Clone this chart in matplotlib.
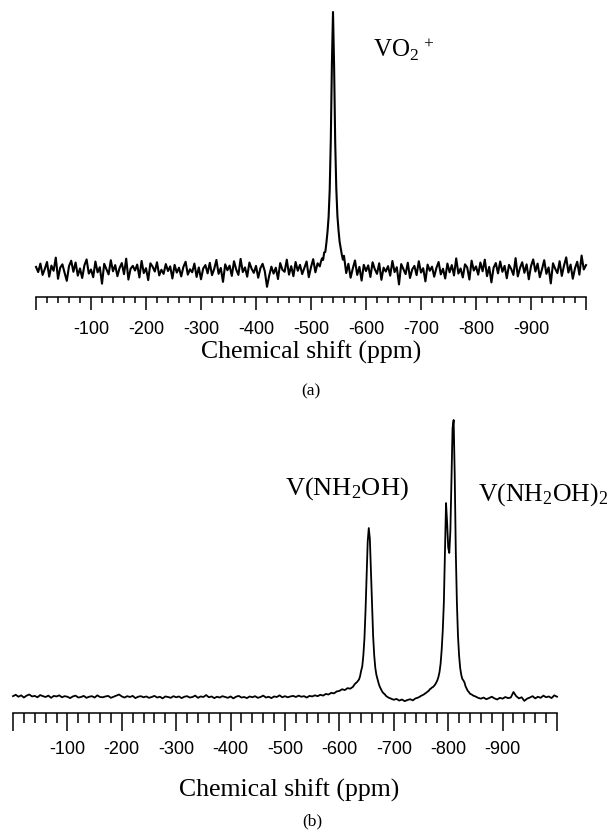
import numpy as np
import matplotlib
matplotlib.use("Agg")
import matplotlib.pyplot as plt

plt.rcParams["mathtext.fontset"] = "custom"
plt.rcParams["mathtext.rm"] = "Liberation Serif"
plt.rcParams["mathtext.it"] = "Liberation Serif:italic"

SERIF = "Liberation Serif"
SANS = "Liberation Sans"

# ---- panel (a): VO2+ spectrum ----
# baseline 0 ... -516 ppm (step 4)
noise_a_left = [
    1.2, -0.8, 2.5, -1.9, 0.4, 3.1, -2.6, 1.7, -0.3, 4.8, -3.4, 0.9, 2.2, -1.1, -4.2, 1.5, 3.6, -0.7, 2.9, -2.2,
    0.6, -3.1, 1.8, 4.1, -1.4, 0.2, -2.8, 3.3, -0.9, 1.1, -5.3, 2.4, 0.3, -1.7, 3.8, -0.5, 1.9, -2.4, 0.8, 2.7,
    -1.6, 4.4, -3.7, 0.5, 1.6, -0.2, 2.1, -2.9, 3.5, -1.2, 0.7, -3.9, 2.6, 1.3, -0.6, 3.0, -2.1, 0.1, -1.5, 2.3,
    -0.4, 1.4, -3.3, 2.0, -1.0, 0.9, -2.5, 1.2, 3.2, -1.8, 0.3, -0.9, 2.5, -2.7, 1.0, -3.6, 0.6, 1.9, -1.3, 2.8,
    -2.0, 0.4, 3.9, -1.5, 0.8, -4.6, 2.2, -0.1, 1.7, -2.3, 3.4, 0.2, -1.9, 4.3, -0.8, 1.0, -2.6, 2.9, 0.5, -1.1,
    1.6, -3.0, 0.7, 2.4, -0.5, -6.5, -2.2, 1.3, -1.4, 0.9, -3.5, 2.7, 0.1, -0.7, 4.0, -1.8, 1.5, -2.4, 3.1, -0.3,
    2.0, -1.6, 0.8, 3.3, -2.8, 1.1, 4.2, -0.9, 2.6, 1.4,
]
# peak region -518 ... -562 ppm (step 2)
peak_a = [3.2, 4.5, 3.9, 6.8, 7.0, 10.5, 14.8, 20.5, 31.0, 50.5, 80.0, 100.0,
          79.0, 49.5, 31.5, 21.0, 15.5, 11.0, 8.5, 6.0, 4.0, 5.5, 2.0]
# baseline -564 ... -1000 ppm (step 4)
noise_a_right = [
    -1.2, 2.4, -3.0, 0.6, 3.7, -1.9, 1.2, -4.1, 2.0, -0.4, 1.8, -2.7, 3.0, 0.3, -1.5, 2.6, -3.8, 0.9, -0.6, 1.5,
    -2.2, 3.5, -0.8, 1.1, -5.6, 2.3, 0.4, -1.6, 2.8, -3.1, 0.2, 1.6, -2.0, 3.4, -1.0, 0.7, -4.4, 2.1, -0.3, 1.3,
    -2.6, 0.8, 3.1, -1.7, 0.5, -3.3, 2.5, -0.9, 1.9, -2.1, 4.5, -1.4, 0.6, -2.9, 2.2, 1.0, -3.7, 3.6, -0.2, 1.4,
    -1.8, 2.9, -0.5, 4.0, -2.4, 1.2, -4.8, 0.9, 2.7, -1.3, 3.3, -0.7, 1.6, -3.2, 2.0, 0.4, -1.9, 4.6, -2.5, 0.8,
    3.0, -1.1, 2.2, -3.6, 1.5, 4.1, -0.6, 2.5, -2.8, 0.3, 3.8, -1.5, 1.0, -5.2, 2.6, 0.5, -1.2, 3.4, -2.3, 1.7,
    4.9, -1.0, 2.1, -3.4, 0.7, 3.2, -1.8, 5.6, 0.2, 1.9,
]

# ---- panel (b): hydroxylamine complexes ----
base_b1 = [
    0.3, 0.8, 0.1, 0.6, -0.2, 0.5, 0.9, 0.2, 0.4, -0.1, 0.7, 0.3, 0.0, 0.5, -0.3, 0.4, 0.2, 0.6, -0.1, 0.3,
    0.1, -0.4, 0.2, 0.5, -0.2, 0.0, 0.4, -0.3, 0.1, 0.3, -0.2, 0.6, 0.0, -0.1, 0.2, 0.4, -0.3, 0.1, 0.5, 0.9,
    0.2, -0.2, 0.3, 0.0, 0.4, -0.4, 0.1, 0.3, -0.1, 0.2, -0.3, 0.0, 0.4, -0.2, 0.1, -0.5, 0.2, 0.0, -0.3, 0.3,
    -0.1, 0.2, -0.4, 0.1, 0.3, -0.2, 0.0, 0.5, -0.3, 0.2, 0.0, 0.7, -0.1, 0.2, -0.4, 0.1, -0.2, 0.3, 0.0, -0.3,
    0.2, -0.5, 0.1, 0.4, -0.2, 0.0, -0.4, 0.2, -0.1, 0.3, -0.3, 0.0, 0.5, -0.2, 0.1, -0.4, 0.2, 0.0, 0.6, -0.1,
    0.3, -0.1, 0.2, 0.4, 0.0, 0.5, 0.1, 0.3, -0.2, 0.4, 0.2, 0.6, 0.3, 0.8, 0.5, 1.1, 0.9, 1.5, 1.3, 2.0,
    2.2, 2.8, 2.5, 3.2, 3.0, 3.7,
]  # 0 ... -625 (step 5)
peak_b1 = [4.0, 4.6, 5.0, 5.3, 5.8, 6.3, 7.5, 9.5, 11.0, 15.0, 21.0, 31.0, 44.0, 56.0, 61.0,
           57.0, 45.0, 32.0, 22.0, 15.0, 10.5, 8.0, 6.5, 5.0, 3.8, 3.0, 2.2, 1.6, 1.2, 0.9]  # -626 ... -684 (step 2)
base_b2 = [0.5, -0.2, -0.6, -1.0, -0.7, -1.3, -0.9, -1.5, -1.1, -0.8, -1.2, -0.5, -0.2, 0.4, 0.9, 1.6, 2.4]  # -685 ... -765
peak_b2 = [2.8, 3.0, 3.4, 3.6, 4.0, 4.5, 5.2, 6.0, 7.2, 9.0, 12.0, 17.0, 24.0, 34.0, 52.0, 70.0, 63.0, 54.0,
           52.0, 60.0, 78.0, 97.0, 100.0, 80.0, 52.0, 34.0, 22.0, 15.0, 10.5, 8.0, 6.5, 6.0, 5.2, 3.8, 3.0,
           2.2, 1.8, 1.2, 1.0, 0.8]  # -766 ... -844 (step 2)
base_b3 = [0.6, 0.2, -0.3, -0.6, -0.2, -0.8, -0.4, 0.1, -0.5, -0.9, -0.3, -0.6, 0.0, -0.4, -0.2, 1.8,
           0.3, -0.5, -0.1, -1.4, -0.6, -0.2, 0.3, -0.5, 0.1, -0.3, 0.5, -0.1, 0.2, -0.4, 0.6, 0.1]  # -845 ... -1000

tick_vals = np.arange(0, -1001, -100)
tick_labels = [""] + [str(v) for v in tick_vals[1:-1]] + [""]
minor_vals = np.arange(0, -1001, -20)

ppm_a = np.concatenate([np.arange(0, -517, -4), np.arange(-518, -563, -2), np.arange(-564, -1001, -4)])
int_a = np.array(noise_a_left + peak_a + noise_a_right)

ppm_b = np.concatenate([np.arange(0, -626, -5), np.arange(-626, -685, -2), np.arange(-685, -766, -5),
                        np.arange(-766, -845, -2), np.arange(-845, -1001, -5)])
int_b = np.array(base_b1 + peak_b1 + base_b2 + peak_b2 + base_b3)

W, H = 609, 835
fig = plt.figure(figsize=(W / 100, H / 100), dpi=100)


def px_axes(x0, x1, y_top, y_bot):
    return fig.add_axes([x0 / W, (H - y_bot) / H, (x1 - x0) / W, (y_bot - y_top) / H])


def style_axis(ax, major_len, minor_len, pad):
    ax.set_xlim(0, -1000)
    for s in ("top", "left", "right"):
        ax.spines[s].set_visible(False)
    ax.spines["bottom"].set_linewidth(1.1)
    ax.set_yticks([])
    ax.set_xticks(tick_vals, labels=tick_labels)
    ax.set_xticks(minor_vals, minor=True)
    ax.tick_params(axis="x", which="major", direction="out", length=major_len, width=1.1,
                   pad=pad, labelsize=13)
    ax.tick_params(axis="x", which="minor", direction="out", length=minor_len, width=1.1)
    for lab in ax.get_xticklabels():
        lab.set_family(SANS)
    ax.patch.set_visible(False)


# panel (a)
ax1 = px_axes(36, 586, 0, 297)
ax1.plot(ppm_a, int_a, color="black", lw=1.5, clip_on=False)
ax1.set_ylim(-27 / 2.58, 297 / 2.58 - 27 / 2.58)
style_axis(ax1, 9, 4.5, 8.5)
ax1.text(-613, 82.5, r"VO$_2$$^{\,+}$", family=SERIF, fontsize=18, ha="left", va="baseline")
fig.text(311 / W, 1 - 352 / H, "Chemical shift (ppm)", family=SERIF, fontsize=18.5, ha="center", va="center")
fig.text(311 / W, 1 - 391 / H, "(a)", family=SERIF, fontsize=12.5, ha="center", va="center")

# panel (b)
ax2 = px_axes(13, 557, 420, 713)
ax2.plot(ppm_b, int_b, color="black", lw=1.3, clip_on=False)
ax2.set_ylim(-16 / 2.77, 277 / 2.77)
style_axis(ax2, 13, 7, 7.5)
ax2.text(-500, 73, r"V(NH$_2$OH)", family=SERIF, fontsize=19, ha="left", va="baseline")
ax2.text(-855, 71, r"V(NH$_2$OH)$_2$", family=SERIF, fontsize=18.5, ha="left", va="baseline")
fig.text(289 / W, 1 - 790 / H, "Chemical shift (ppm)", family=SERIF, fontsize=18.5, ha="center", va="center")
fig.text(312 / W, 1 - 821 / H, "(b)", family=SERIF, fontsize=12.5, ha="center", va="center")

fig.savefig("out.png", dpi=100, facecolor="white")
